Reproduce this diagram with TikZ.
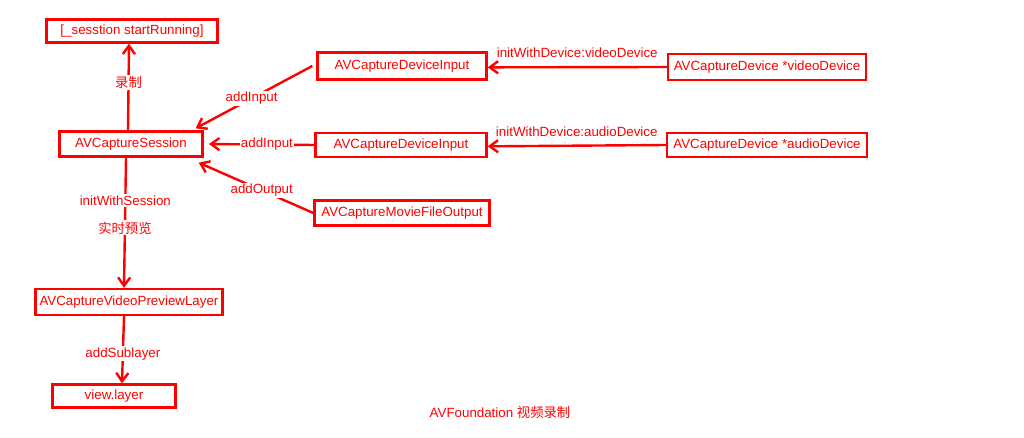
\documentclass[tikz,border=0pt]{standalone}
\usepackage{fontspec}
\setmainfont{Liberation Sans}
\newfontfamily\cjk{Noto Sans CJK SC}
\usetikzlibrary{arrows.meta}
\newcommand{\arw}{-{Straight Barb[length=2.2mm,width=3.2mm]}}

\begin{document}
\begin{tikzpicture}[x=.75pt,y=-.75pt,
  box/.style={draw=red,line width=1.8pt,text=red,font=\fontsize{10}{12}\selectfont,inner sep=0pt},
  lbl/.style={fill=white,text=red,font=\fontsize{10}{12}\selectfont,inner sep=1pt},
  con/.style={red,line width=1.8pt}]
\useasboundingbox (0,0) rectangle (1024,438);
%boxes
\node[box,minimum width=128.25pt,minimum height=17.25pt] (run) at (132,31) {[\_sesstion startRunning]};
\node[box,minimum width=107.25pt,minimum height=18.75pt] (session) at (131,144) {AVCaptureSession};
\node[box,minimum width=126.75pt,minimum height=20.25pt] (vinput) at (402,66) {AVCaptureDeviceInput};
\node[box,minimum width=148.5pt,minimum height=19.5pt] (vdevice) at (767,67) {AVCaptureDevice *videoDevice};
\node[box,minimum width=128.25pt,minimum height=18pt] (ainput) at (401,145) {AVCaptureDeviceInput};
\node[box,minimum width=150pt,minimum height=18pt] (adevice) at (767,145) {AVCaptureDevice *audioDevice};
\node[box,minimum width=131.25pt,minimum height=18.75pt] (output) at (402,213) {AVCaptureMovieFileOutput};
\node[box,minimum width=140.25pt,minimum height=19.5pt] (preview) at (129,302) {AVCaptureVideoPreviewLayer};
\node[box,minimum width=92.25pt,minimum height=17.25pt] (layer) at (114,396) {view.layer};
%connectors
\draw[con,\arw] (session.north -| 128,0) -- (run.south -| 129,0) node[lbl,pos=.55] {\cjk 录制};
\draw[con,\arw] ([xshift=-3]vinput.west) -- ([shift={(-8,-2)}]session.north east) node[lbl,pos=.52] {addInput};
\draw[con,\arw] (ainput.west) -- ([xshift=4]session.east) node[lbl,pos=.45] {addInput};
\draw[con,\arw] (output.west) -- ([shift={(-5,5)}]session.south east) node[lbl,pos=.45] {addOutput};
\draw[con,\arw] (vdevice.west) -- ([yshift=-1]vinput.east) node[lbl,pos=.5,yshift=10.5] {initWithDevice:videoDevice};
\draw[con,\arw] (adevice.west) -- ([yshift=-1]ainput.east) node[lbl,pos=.5,yshift=10.5] {initWithDevice:audioDevice};
\draw[con,\arw] (session.south -| 126,0) -- (preview.north -| 124,0)
  node[lbl,pos=.33] {initWithSession} node[lbl,pos=.54] {\cjk 实时预览};
\draw[con,\arw] (preview.south -| 124,0) -- (layer.north -| 122,0) node[lbl,pos=.56] {addSublayer};
\node[lbl] (title) at (500,412) {AVFoundation {\cjk 视频录制}};
\end{tikzpicture}
\end{document}
